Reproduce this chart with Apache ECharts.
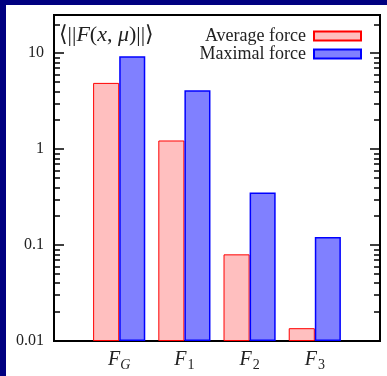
<!DOCTYPE html>
<html>
<head>
<meta charset="utf-8">
<script src="https://cdn.jsdelivr.net/npm/echarts@6/dist/echarts.min.js"></script>
<style>
  html, body { margin: 0; padding: 0; background: #fff; }
  #chart {
    width: 381px;
    height: 371px;
    border-top: 5px solid #000080;
    border-left: 6px solid #000080;
  }
</style>
</head>
<body>
<div id="chart"></div>
<script>
// force magnitudes
const categories = ['F_G', 'F_1', 'F_2', 'F_3']
const averageForce = [4.9, 1.23, 0.080, 0.0136]
const maximalForce = [9.3, 4.1, 0.354, 0.121]
const majorTicks = [0.01, 0.1, 1, 10]
const minorTicks = [
  0.02, 0.03, 0.04, 0.05, 0.06, 0.07, 0.08, 0.09,
  0.2, 0.3, 0.4, 0.5, 0.6, 0.7, 0.8, 0.9,
  2, 3, 4, 5, 6, 7, 8, 9,
  20,
]

const serif = '"Liberation Serif", "DejaVu Serif", serif'

// pad one empty slot on each side so the four groups sit at 1..4 of 5
const axisData = ['', ...categories, '']
const pad = (arr) => [null, ...arr, null]

function logAxis(position, ticks, len, labels) {
  return {
    type: 'log',
    logBase: 10,
    min: 0.01,
    max: 25,
    startValue: 0.01,
    position,
    axisLine: { show: false },
    splitLine: { show: false },
    axisTick: {
      show: true,
      inside: true,
      length: len,
      customValues: ticks,
      lineStyle: { color: '#000', width: 1.5 },
    },
    axisLabel: labels
      ? {
          show: true,
          customValues: majorTicks,
          margin: 10,
          color: '#222',
          fontFamily: serif,
          fontSize: 16,
          formatter: (v) => String(+v.toPrecision(3)),
        }
      : { show: false },
  }
}

const chart = echarts.init(document.getElementById('chart'))
chart.setOption({
  backgroundColor: '#fff',
  animation: false,
  grid: {
    left: 48,
    top: 10,
    right: 7,
    bottom: 35,
    show: true,
    borderColor: '#000',
    borderWidth: 2,
  },
  title: {
    left: 53,
    top: 19,
    padding: 0,
    text: '{a|⟨||}{i|F}{a|(}{i|x}{a|, }{i|μ}{a|)||⟩}',
    textStyle: {
      rich: {
        a: { fontFamily: serif, fontSize: 22, fontWeight: 'normal', color: '#222' },
        i: { fontFamily: serif, fontSize: 22, fontWeight: 'normal', fontStyle: 'italic', color: '#222' },
      },
    },
  },
  legend: {
    orient: 'vertical',
    right: 25,
    top: 22,
    padding: 0,
    align: 'right',
    icon: 'rect',
    itemWidth: 47,
    itemHeight: 9,
    itemGap: 0,
    textStyle: { fontFamily: serif, fontSize: 18, color: '#222', padding: [0, 3, 0, 0] },
    data: ['Average force', 'Maximal force'],
  },
  xAxis: {
    type: 'category',
    data: axisData,
    boundaryGap: false,
    axisLine: { show: false },
    axisTick: { show: false },
    axisLabel: {
      margin: 7,
      interval: 0,
      formatter: (v) => {
        if (!v) return ''
        const [base, sub] = v.split('_')
        const style = /[A-Za-z]/.test(sub) ? 'si' : 's'
        return '{f|' + base + '}{' + style + '|' + sub + '}'
      },
      rich: {
        f: { fontFamily: serif, fontStyle: 'italic', fontSize: 20, color: '#222' },
        s: { fontFamily: serif, fontSize: 14, color: '#222', padding: [10, 0, 0, 1] },
        si: { fontFamily: serif, fontStyle: 'italic', fontSize: 14, color: '#222', padding: [10, 0, 0, 0] },
      },
    },
  },
  yAxis: [
    logAxis('left', majorTicks, 10, true),
    logAxis('left', minorTicks, 6, false),
    logAxis('right', majorTicks, 10, false),
    logAxis('right', minorTicks, 6, false),
  ],
  series: [
    {
      name: 'Average force',
      type: 'bar',
      yAxisIndex: 0,
      barGap: '0%',
      barCategoryGap: '20%',
      itemStyle: { color: '#ffbfbf', borderColor: '#ff0000', borderWidth: 1 },
      data: pad(averageForce),
    },
    {
      name: 'Maximal force',
      type: 'bar',
      yAxisIndex: 0,
      barGap: '0%',
      barCategoryGap: '20%',
      itemStyle: { color: '#8080ff', borderColor: '#0000ff', borderWidth: 1.5 },
      data: pad(maximalForce),
    },
  ],
})
</script>
</body>
</html>
